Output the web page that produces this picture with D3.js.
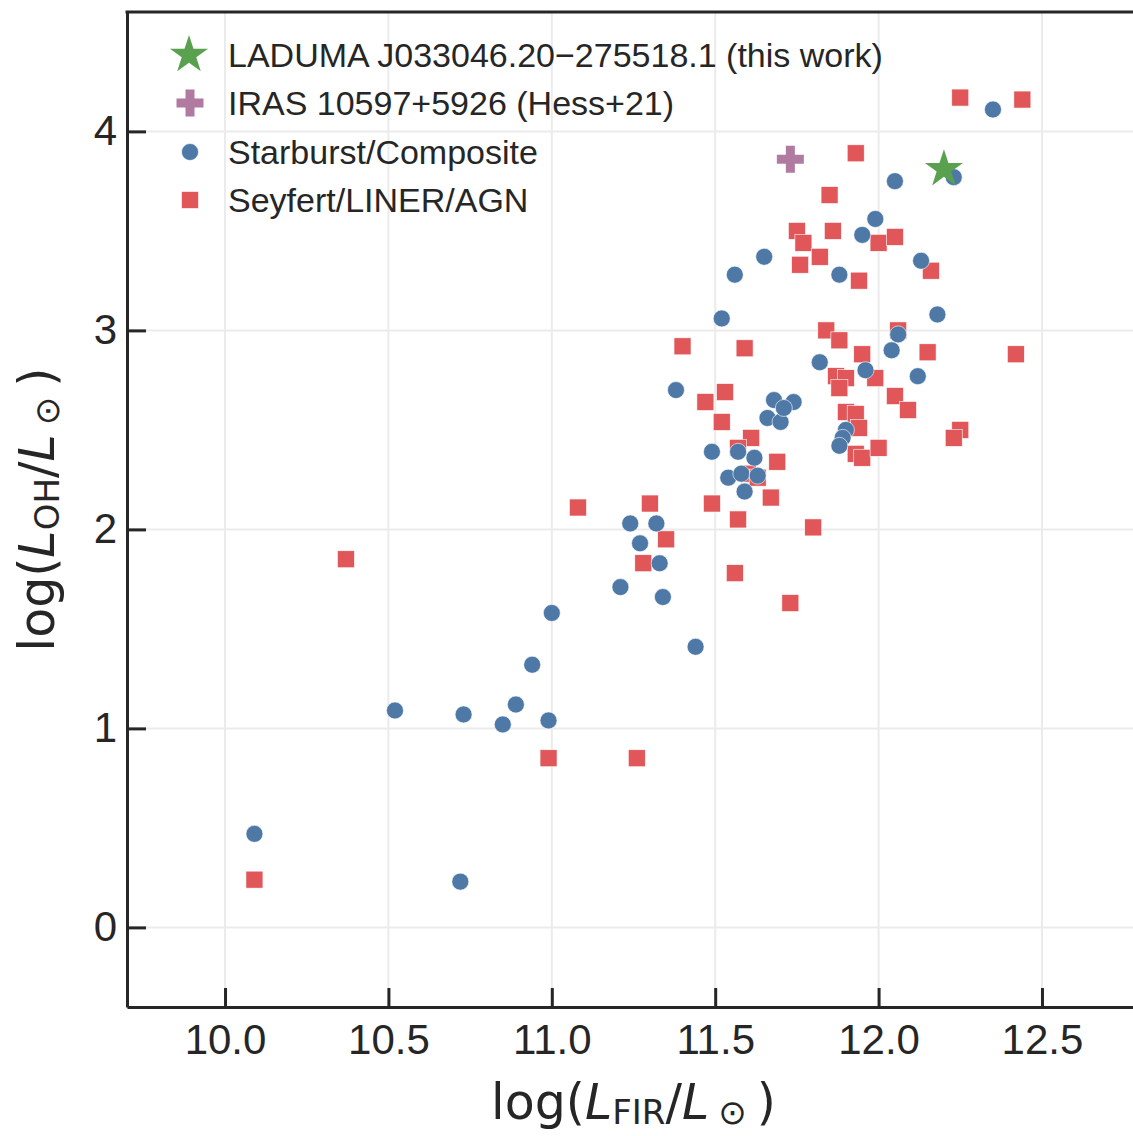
<!DOCTYPE html>
<html>
<head>
<meta charset="utf-8">
<script src="https://cdn.jsdelivr.net/npm/d3@7"></script>
<style>
  body { margin: 0; background: #fff; }
  svg { display: block; }
</style>
</head>
<body>
<div id="chart"></div>
<script>
// log(L_FIR), log(L_OH) pairs
const starburst = [
  [10.09, 0.47], [10.72, 0.23], [10.52, 1.09], [10.73, 1.07], [10.85, 1.02],
  [10.89, 1.12], [10.99, 1.04], [10.94, 1.32], [11.00, 1.58], [11.21, 1.71],
  [11.24, 2.03], [11.27, 1.93], [11.32, 2.03], [11.33, 1.83], [11.34, 1.66],
  [11.44, 1.41], [11.38, 2.70], [11.49, 2.39], [11.52, 3.06], [11.56, 3.28],
  [11.65, 3.37], [11.57, 2.39], [11.62, 2.36], [11.54, 2.26], [11.58, 2.28],
  [11.63, 2.27], [11.59, 2.19], [11.68, 2.65], [11.74, 2.64], [11.66, 2.56],
  [11.70, 2.54], [11.71, 2.61], [11.90, 2.50], [11.89, 2.46], [11.88, 2.42],
  [11.82, 2.84], [11.88, 3.28], [11.95, 3.48], [11.99, 3.56], [12.05, 3.75],
  [12.13, 3.35], [12.18, 3.08], [12.06, 2.98], [12.04, 2.90], [11.96, 2.80],
  [12.12, 2.77], [12.23, 3.77], [12.35, 4.11]
];

const seyfert = [
  [10.09, 0.24], [10.37, 1.85], [10.99, 0.85], [11.26, 0.85], [11.08, 2.11],
  [11.30, 2.13], [11.35, 1.95], [11.28, 1.83], [11.40, 2.92], [11.47, 2.64],
  [11.53, 2.69], [11.52, 2.54], [11.49, 2.13], [11.57, 2.05], [11.56, 1.78],
  [11.59, 2.91], [11.61, 2.46], [11.57, 2.41], [11.60, 2.28], [11.63, 2.26],
  [11.69, 2.34], [11.67, 2.16], [11.73, 1.63], [11.80, 2.01], [11.85, 3.68],
  [11.75, 3.50], [11.77, 3.44], [11.86, 3.50], [11.82, 3.37], [11.76, 3.33],
  [12.00, 3.44], [12.05, 3.47], [11.94, 3.25], [12.16, 3.30], [11.84, 3.00],
  [11.88, 2.95], [12.06, 3.00], [11.95, 2.88], [12.15, 2.89], [11.87, 2.77],
  [11.90, 2.76], [11.88, 2.71], [11.99, 2.76], [12.05, 2.67], [12.09, 2.60],
  [11.90, 2.59], [11.93, 2.58], [11.94, 2.51], [11.93, 2.38], [11.95, 2.36],
  [12.00, 2.41], [12.25, 2.50], [12.23, 2.46], [12.42, 2.88], [11.93, 3.89],
  [12.25, 4.17], [12.44, 4.16]
];

const laduma = [[12.20, 3.81]];
const iras = [[11.73, 3.86]];

const xTicks = [10.0, 10.5, 11.0, 11.5, 12.0, 12.5];
const yTicks = [0, 1, 2, 3, 4];

const legendLabels = [
  "LADUMA J033046.20\u2212275518.1 (this work)",
  "IRAS 10597+5926 (Hess+21)",
  "Starburst/Composite",
  "Seyfert/LINER/AGN"
];

const W = 1133, H = 1136;
const colors = { blue: "#4e79a7", red: "#e15759", green: "#59a14f", purple: "#b07aa1" };
const ink = "#262626";

const x = d3.scaleLinear().domain([9.7, 12.8]).range([127, 1140]);
const y = d3.scaleLinear().domain([-0.4, 4.6]).range([1007, 12]);

const svg = d3.select("#chart").append("svg")
    .attr("width", W)
    .attr("height", H);

// grid
svg.append("g").selectAll("line.gx")
    .data(xTicks).enter().append("line")
    .attr("x1", d => x(d)).attr("x2", d => x(d))
    .attr("y1", y.range()[1]).attr("y2", y.range()[0])
    .attr("stroke", "#ebebeb").attr("stroke-width", 2);
svg.append("g").selectAll("line.gy")
    .data(yTicks).enter().append("line")
    .attr("y1", d => y(d)).attr("y2", d => y(d))
    .attr("x1", x.range()[0]).attr("x2", x.range()[1])
    .attr("stroke", "#ebebeb").attr("stroke-width", 2);

// axes
const xAxis = svg.append("g")
    .attr("transform", "translate(0," + y.range()[0] + ")")
    .call(d3.axisBottom(x).tickValues(xTicks).tickFormat(d3.format(".1f"))
        .tickSizeInner(-19).tickSizeOuter(0).tickPadding(17));
const yAxis = svg.append("g")
    .attr("transform", "translate(" + x.range()[0] + ",0)")
    .call(d3.axisLeft(y).tickValues(yTicks).tickFormat(d3.format("d"))
        .tickSizeInner(-19).tickSizeOuter(0).tickPadding(10));

[xAxis, yAxis].forEach(a => {
  a.select(".domain").attr("stroke", ink).attr("stroke-width", 3);
  a.selectAll(".tick line").attr("stroke", ink).attr("stroke-width", 3);
  a.selectAll(".tick text")
      .attr("fill", ink)
      .style("font-family", "'Liberation Sans', Arial, sans-serif")
      .style("font-size", "42px");
});

// top spine
svg.append("line")
    .attr("x1", x.range()[0] - 1.5).attr("x2", W)
    .attr("y1", y.range()[1]).attr("y2", y.range()[1])
    .attr("stroke", ink).attr("stroke-width", 3);

// points
const sq = 17;
svg.append("g").selectAll("rect")
    .data(seyfert).enter().append("rect")
    .attr("x", d => x(d[0]) - sq / 2)
    .attr("y", d => y(d[1]) - sq / 2)
    .attr("width", sq).attr("height", sq)
    .attr("fill", colors.red)
    .attr("stroke", "#fff").attr("stroke-width", 0.6);

svg.append("g").selectAll("circle")
    .data(starburst).enter().append("circle")
    .attr("cx", d => x(d[0]))
    .attr("cy", d => y(d[1]))
    .attr("r", 8.5)
    .attr("fill", colors.blue)
    .attr("stroke", "#fff").attr("stroke-width", 0.6);

const starPath = d3.symbol().type(d3.symbolStar).size(450);
const crossPath = d3.symbol().type(d3.symbolCross).size(405);

svg.append("g").selectAll("path")
    .data(iras).enter().append("path")
    .attr("transform", d => "translate(" + x(d[0]) + "," + y(d[1]) + ")")
    .attr("d", crossPath)
    .attr("fill", colors.purple);

svg.append("g").selectAll("path")
    .data(laduma).enter().append("path")
    .attr("transform", d => "translate(" + x(d[0]) + "," + y(d[1]) + ")")
    .attr("d", starPath)
    .attr("fill", colors.green);

// legend
const legend = svg.append("g");
const rowY = [55, 103, 152, 200];
legend.append("path").attr("transform", "translate(189," + rowY[0] + ")")
    .attr("d", starPath).attr("fill", colors.green);
legend.append("path").attr("transform", "translate(190," + rowY[1] + ")")
    .attr("d", crossPath).attr("fill", colors.purple);
legend.append("circle").attr("cx", 190).attr("cy", rowY[2]).attr("r", 8.5)
    .attr("fill", colors.blue).attr("stroke", "#fff").attr("stroke-width", 0.6);
legend.append("rect").attr("x", 190 - sq / 2).attr("y", rowY[3] - sq / 2)
    .attr("width", sq).attr("height", sq)
    .attr("fill", colors.red).attr("stroke", "#fff").attr("stroke-width", 0.6);

legend.selectAll("text")
    .data(legendLabels).enter().append("text")
    .attr("x", 228)
    .attr("y", (d, i) => rowY[i])
    .attr("dy", "0.36em")
    .attr("fill", ink)
    .style("font-family", "'Liberation Sans', Arial, sans-serif")
    .style("font-size", "34px")
    .text(d => d);

// axis labels
const labelFont = "'DejaVu Sans', sans-serif";
function axisLabel(sel, sub) {
  sel.append("tspan").text("log(");
  sel.append("tspan").attr("font-style", "italic").text("L");
  sel.append("tspan").attr("font-size", "34px").attr("dy", 5).text(sub);
  sel.append("tspan").attr("dy", -5).text("/");
  sel.append("tspan").attr("font-style", "italic").text("L");
  sel.append("tspan").attr("font-size", "34px").attr("dy", 5).attr("dx", 9).text("\u2299");
  sel.append("tspan").attr("dy", -5).attr("dx", 10).text(")");
}

const xl = svg.append("text")
    .attr("x", (x.range()[0] + x.range()[1]) / 2)
    .attr("y", 1119)
    .attr("text-anchor", "middle")
    .attr("fill", ink)
    .style("font-family", labelFont)
    .style("font-size", "49px");
axisLabel(xl, "FIR");

const yl = svg.append("text")
    .attr("transform", "translate(54," + (y.range()[0] + y.range()[1]) / 2 + ") rotate(-90)")
    .attr("text-anchor", "middle")
    .attr("fill", ink)
    .style("font-family", labelFont)
    .style("font-size", "49px");
axisLabel(yl, "OH");
</script>
</body>
</html>
